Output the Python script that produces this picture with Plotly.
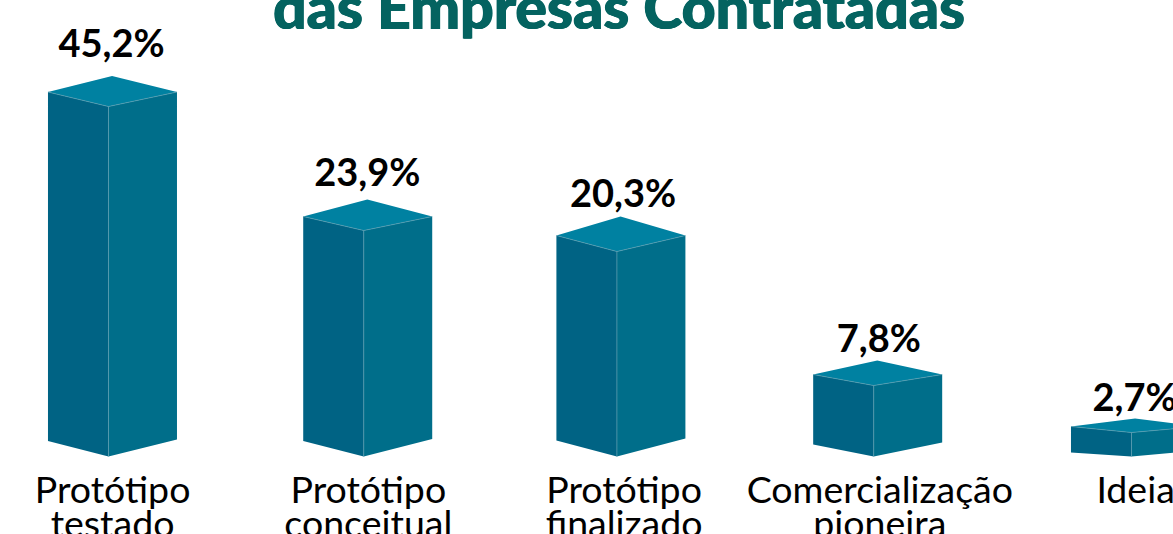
import plotly.graph_objects as go

# ---- data ----
categories_line1 = ["Protótipo", "Protótipo", "Protótipo", "Comercialização", "Ideia"]
categories_line2 = ["testado", "conceitual", "finalizado", "pioneira", ""]
value_labels = ["45,2%", "23,9%", "20,3%", "7,8%", "2,7%"]
# height of the front edge of each bar as drawn (the picture is not to scale with the labels)
drawn_heights = [350, 226, 205, 71, 24]

# ---- pseudo-3D look of each bar, in y-axis units ----
top_front_drop = [14.5, 14, 16, 11, 6]
top_back_rise = [16, 17, 19, 14, 8]
bottom_left_rise = [15.5, 15.5, 16, 12, 4]
bottom_right_rise = [17, 17.5, 18, 14, 6]
label_gap = [29, 23, 19, 18, 17]
bar_shift = [0, -0.002, -0.012, -0.008, 0]

LEFT_W, RIGHT_W, APEX_DX = 0.2366, 0.2678, 0.014
LABEL_DX = 0.012
COL_LEFT, COL_RIGHT, COL_TOP, COL_SEAM = "#006384", "#006E8A", "#0081A1", "#5B9DB0"

left_x, left_y, right_x, right_y, top_x, top_y, seam_x, seam_y = [], [], [], [], [], [], [], []
label_x, label_y = [], []
for i, h in enumerate(drawn_heights):
    c = i + bar_shift[i]
    xl, xr, xa = c - LEFT_W, c + RIGHT_W, c + APEX_DX
    shoulder = h + top_front_drop[i]
    apex = shoulder + top_back_rise[i]
    left_x += [xl, c, c, xl, xl, None]
    left_y += [shoulder, h, 0, bottom_left_rise[i], shoulder, None]
    right_x += [c, xr, xr, c, c, None]
    right_y += [h, shoulder, bottom_right_rise[i], 0, h, None]
    top_x += [xl, xa, xr, c, xl, None]
    top_y += [shoulder, apex, shoulder, h, shoulder, None]
    seam_x += [xl, c, xr, None, c, c, None]
    seam_y += [shoulder, h, shoulder, None, h, 0, None]
    label_x.append(i + LABEL_DX)
    label_y.append(apex + label_gap[i])

idx = list(range(len(drawn_heights)))
fig = go.Figure()
for xs, ys, col in [(left_x, left_y, COL_LEFT), (right_x, right_y, COL_RIGHT), (top_x, top_y, COL_TOP)]:
    fig.add_trace(go.Scatter(x=xs, y=ys, mode="lines", fill="toself", fillcolor=col,
                             line=dict(width=0, color=col), hoverinfo="skip", showlegend=False))
fig.add_trace(go.Scatter(x=seam_x, y=seam_y, mode="lines", line=dict(width=0.7, color=COL_SEAM),
                         hoverinfo="skip", showlegend=False))
fig.add_trace(go.Scatter(x=label_x, y=label_y, mode="text", text=value_labels, cliponaxis=False,
                         textposition="middle center",
                         textfont=dict(family="Lato", size=38, color="#000000", weight=700),
                         hoverinfo="skip", showlegend=False))
cat_x = [i + 0.016 for i in idx]
fig.add_trace(go.Scatter(x=cat_x, y=[-37] * 5, mode="text", text=categories_line1, cliponaxis=False,
                         textposition="middle center",
                         textfont=dict(family="Lato", size=37.5, color="#000000"),
                         hoverinfo="skip", showlegend=False))
fig.add_trace(go.Scatter(x=cat_x, y=[-71] * 5, mode="text", text=categories_line2, cliponaxis=False,
                         textposition="middle center",
                         textfont=dict(family="Lato", size=37.5, color="#000000"),
                         hoverinfo="skip", showlegend=False))
fig.add_annotation(x=1.995, y=450, xref="x", yref="y", text="das Empresas Contratadas", showarrow=False,
                   xanchor="center", yanchor="middle",
                   font=dict(family="Lato", size=59, color="#046360", weight=900,
                             shadow="0.6px 0 0 #046360, -0.6px 0 0 #046360"))

fig.update_layout(
    width=1173, height=534, autosize=False, margin=dict(l=0, r=0, t=0, b=0),
    paper_bgcolor="#FFFFFF", plot_bgcolor="#FFFFFF", showlegend=False,
    xaxis=dict(range=[-0.4242, 4.1623], visible=False, fixedrange=True),
    yaxis=dict(range=[-77.5, 456.5], visible=False, fixedrange=True),
)
fig.write_html("out.html", config={"displayModeBar": False},
               post_script="document.body.style.margin='0';document.documentElement.style.overflow='hidden';")
